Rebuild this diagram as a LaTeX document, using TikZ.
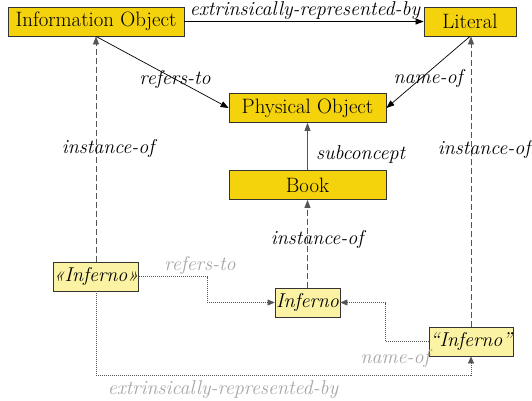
\documentclass[tikz,border=0pt]{standalone}
\usetikzlibrary{arrows.meta}
\definecolor{conceptfill}{RGB}{244,210,12}
\definecolor{instfill}{RGB}{251,243,163}
\definecolor{labelgray}{RGB}{165,165,165}
\definecolor{linegray}{RGB}{85,85,85}
\begin{document}
\begin{tikzpicture}[x=1pt,y=-1pt,
	font=\fontsize{20}{24}\selectfont,
	concept/.style={draw=black!80,fill=conceptfill,minimum height=29pt,inner sep=0pt,line width=0.8pt,font=\fontsize{20.8}{24}\selectfont},
	inst/.style={draw=black!80,fill=instfill,minimum height=29pt,inner sep=0pt,line width=0.8pt,font=\fontsize{20}{24}\selectfont\itshape},
	rel/.style={-{Triangle[length=8pt,width=6pt]},line width=0.7pt},
	isa/.style={-{Triangle[length=8pt,width=6pt]},line width=0.8pt,linegray,dash pattern=on 6pt off 3pt},
	link/.style={-{Triangle[length=7pt,width=6pt]},line width=0.5pt,linegray,dash pattern=on 1pt off 1pt},
	lbl/.style={font=\fontsize{20}{24}\selectfont\itshape,inner sep=0pt},
	glbl/.style={lbl,text=labelgray}]
	\useasboundingbox (0,0) rectangle (532,400);
	\node[concept,minimum width=176pt] at (96,21.5) (io) {Information Object};
	\node[concept,minimum width=92pt] at (470,21.5) (lit) {Literal};
	\node[concept,minimum width=157pt] at (307.5,108) (phys) {Physical Object};
	\node[concept,minimum width=157pt] at (307.5,185) (book) {Book};
	\node[inst,minimum width=82pt] at (96,276.5) (ainf) {«Inferno»};
	\node[inst,minimum width=65pt] at (307.5,302.5) (inf) {Inferno};
	\node[inst,minimum width=84pt] at (471,341.5) (qinf) {“Inferno”};
	\coordinate (rbend) at (207,290);
	\coordinate (nbend) at (385,320);
	\coordinate (ebend) at (300,375);
	\path (io) edge[rel] (lit)
	(io.south) edge[rel] (phys.west)
	(lit.south) edge[rel] (phys.east)
	(book) edge[rel,linegray] (phys)
	(ainf) edge[isa] (io)
	(qinf.north) edge[isa] (qinf.north |- lit.south)
	(inf) edge[isa] (book);
	\draw[link] (ainf.east) -| (rbend) |- (inf.west);
	\draw[link] (qinf.west) -| (nbend) |- (inf.east);
	\draw[link] (ainf.south) |- (ebend) -| (qinf.south);
	\node[lbl] at (305,11) (l-ext) {extrinsically-represented-by};
	\node[lbl] at (175,79) (l-ref) {refers-to};
	\node[lbl] at (428,78) (l-name) {name-of};
	\node[lbl,anchor=west] at (316,154) (l-sub) {subconcept};
	\node[lbl] at (108,148) (l-inst1) {instance-of};
	\node[lbl] at (317,239) (l-inst2) {instance-of};
	\node[lbl] at (484,149) (l-inst3) {instance-of};
	\node[glbl] at (200,265) (g-ref) {refers-to};
	\node[glbl] at (395,358) (g-name) {name-of};
	\node[glbl] at (223,390) (g-ext) {extrinsically-represented-by};
\end{tikzpicture}
\end{document}
